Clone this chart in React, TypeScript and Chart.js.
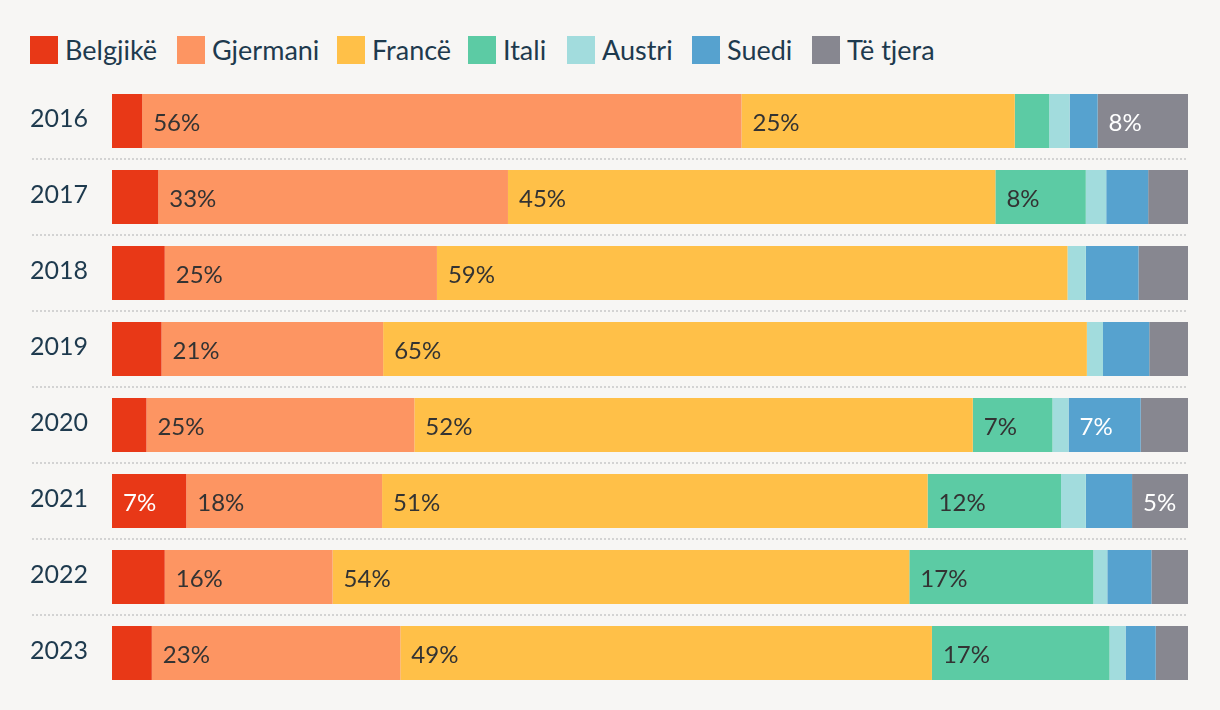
import React, { useEffect, useRef } from "react";
import { Chart, registerables } from "chart.js";
Chart.register(...registerables);

const years = ["2016", "2017", "2018", "2019", "2020", "2021", "2022", "2023"];
const seriesNames = ["Belgjikë", "Gjermani", "Francë", "Itali", "Austri", "Suedi", "Të tjera"];
const belgjike = [2.8, 4.3, 4.9, 4.6, 3.2, 6.9, 4.9, 3.7];
const gjermani = [55.7, 32.5, 25.3, 20.6, 24.9, 18.2, 15.6, 23.1];
const france = [25.4, 45.3, 58.6, 65.4, 51.9, 50.7, 53.6, 49.4];
const itali = [3.2, 8.4, 0, 0, 7.4, 12.4, 17.1, 16.5];
const austri = [1.9, 1.9, 1.7, 1.5, 1.5, 2.3, 1.3, 1.5];
const suedi = [2.6, 3.9, 4.9, 4.3, 6.7, 4.3, 4.1, 2.8];
const tjera = [8.4, 3.7, 4.6, 3.6, 4.4, 5.2, 3.4, 3.0];
const labelThreshold = 5;

const seriesValues = [belgjike, gjermani, france, itali, austri, suedi, tjera];
const colors = ["#e83817", "#fd9562", "#ffc048", "#5ccba4", "#a2dcdd", "#56a2cf", "#878790"];
const labelColors = ["#ffffff", "#333333", "#333333", "#333333", "#333333", "#ffffff", "#ffffff"];
const legendX = [30, 177, 337, 468, 567, 692, 812];

const FONT = "Lato, 'Noto Sans', sans-serif";
const TEXT = "#1e3a4e";

const separatorPlugin = {
  id: "separators",
  beforeDatasetsDraw(chart: any) {
    const { ctx, chartArea } = chart;
    const y = chart.scales.y;
    ctx.save();
    ctx.strokeStyle = "#d3d3d3";
    ctx.lineWidth = 2;
    ctx.setLineDash([2, 2]);
    for (let i = 0; i < years.length - 1; i++) {
      const py = Math.round((y.getPixelForValue(i) + y.getPixelForValue(i + 1)) / 2);
      ctx.beginPath();
      ctx.moveTo(32, py);
      ctx.lineTo(chartArea.right, py);
      ctx.stroke();
    }
    ctx.restore();
  },
};

const yearLabelPlugin = {
  id: "yearLabels",
  afterDraw(chart: any) {
    const { ctx } = chart;
    const y = chart.scales.y;
    ctx.save();
    ctx.font = `25px ${FONT}`;
    ctx.fillStyle = TEXT;
    ctx.textAlign = "right";
    ctx.textBaseline = "middle";
    years.forEach((yr, i) => {
      ctx.fillText(yr, 88, y.getPixelForValue(i) - 2);
    });
    ctx.restore();
  },
};

const labelPlugin = {
  id: "segLabels",
  afterDatasetsDraw(chart: any) {
    const { ctx } = chart;
    ctx.save();
    ctx.font = `24px ${FONT}`;
    ctx.textAlign = "left";
    ctx.textBaseline = "middle";
    chart.data.datasets.forEach((ds: any, di: number) => {
      const meta = chart.getDatasetMeta(di);
      meta.data.forEach((el: any, i: number) => {
        const v = ds.data[i];
        if (v < labelThreshold) return;
        ctx.fillStyle = labelColors[di];
        const start = Math.min(el.base, el.x);
        ctx.fillText(`${Math.round(v)}%`, start + 11, el.y + 2);
      });
    });
    ctx.restore();
  },
};

export default function App() {
  const ref = useRef<HTMLCanvasElement>(null);
  useEffect(() => {
    if (!ref.current) return;
    const chart = new Chart(ref.current, {
      type: "bar",
      data: {
        labels: years,
        datasets: seriesNames.map((name, i) => ({
          label: name,
          data: seriesValues[i],
          backgroundColor: colors[i],
          borderWidth: 0,
          barPercentage: 0.7105,
          categoryPercentage: 1,
        })),
      },
      options: {
        indexAxis: "y",
        animation: false,
        responsive: false,
        maintainAspectRatio: false,
        layout: { padding: { top: 83, bottom: 19, right: 32, left: 0 } },
        plugins: { legend: { display: false }, tooltip: { enabled: false } },
        scales: {
          x: { stacked: true, min: 0, max: 100, display: false },
          y: {
            stacked: true,
            grid: { display: false, drawTicks: false },
            border: { display: false },
            ticks: { display: false },
            afterFit: (s: any) => {
              s.width = 112;
            },
          },
        },
      } as any,
      plugins: [separatorPlugin, labelPlugin, yearLabelPlugin],
    });
    return () => chart.destroy();
  }, []);

  return (
    <div style={{ position: "fixed", left: 0, top: 0, width: 1220, height: 710, background: "#f7f6f4" }}>
      {seriesNames.map((n, i) => (
        <div
          key={n}
          style={{
            position: "absolute",
            left: legendX[i],
            top: 36,
            height: 28,
            display: "flex",
            alignItems: "center",
            fontFamily: FONT,
            fontSize: 27,
            color: TEXT,
            whiteSpace: "nowrap",
          }}
        >
          <span style={{ display: "inline-block", width: 28, height: 28, background: colors[i], marginRight: 7 }} />
          <span style={{ lineHeight: "28px" }}>{n}</span>
        </div>
      ))}
      <canvas ref={ref} width={1220} height={710} style={{ position: "absolute", left: 0, top: 0 }} />
    </div>
  );
}
